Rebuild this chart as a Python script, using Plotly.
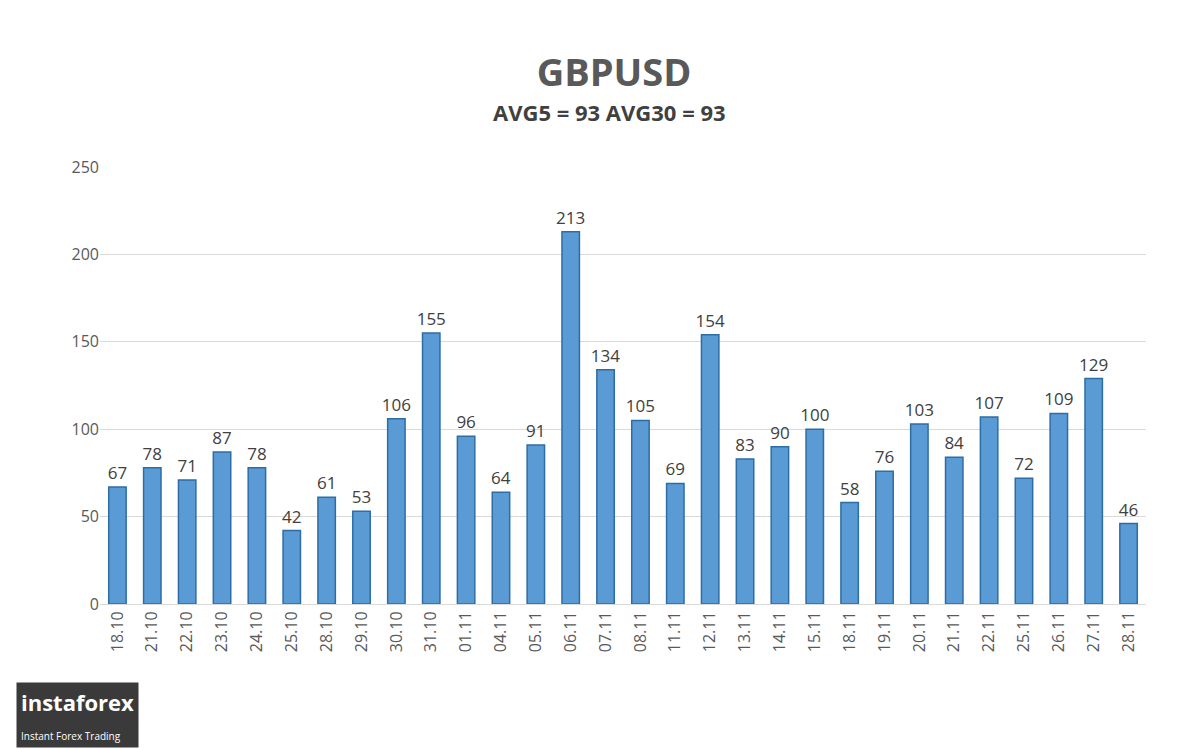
import plotly.graph_objects as go

dates = ['18.10','21.10','22.10','23.10','24.10','25.10','28.10','29.10','30.10','31.10',
         '01.11','04.11','05.11','06.11','07.11','08.11','11.11','12.11','13.11','14.11',
         '15.11','18.11','19.11','20.11','21.11','22.11','25.11','26.11','27.11','28.11']
values = [67,78,71,87,78,42,61,53,106,155,96,64,91,213,134,105,69,154,83,90,
          100,58,76,103,84,107,72,109,129,46]

fig = go.Figure()
fig.add_trace(go.Bar(x=dates, y=values, text=values, textposition='outside',
                     constraintext='none',
                     marker=dict(color='#5b9bd5', line=dict(color='#2e6da4', width=1.5)),
                     textfont=dict(size=17, color='#404040', family='Open Sans'),
                     cliponaxis=False, width=0.5))

fig.update_layout(
    width=1200, height=749, plot_bgcolor='white', paper_bgcolor='white',
    margin=dict(l=92, r=62, t=159, b=153, autoexpand=False), showlegend=False,
    font=dict(family='Open Sans', color='#595959'),
    title=dict(text='<b>GBPUSD</b>', x=0.505, y=0.913, yanchor='middle', xanchor='center',
               font=dict(size=38, color='#595959')),
    xaxis=dict(tickangle=-90, tickfont=dict(size=16, color='#595959'), showline=True,
               linecolor='#d9d9d9'),
    yaxis=dict(range=[0, 250], dtick=50, gridcolor='#d9d9d9', tickfont=dict(size=16, color='#595959'),
               zeroline=False),
    annotations=[
        dict(text='<b>AVG5 = 93 AVG30 = 93</b>', xref='paper', yref='paper', x=0.487, y=1.126,
             xanchor='center', yanchor='middle', showarrow=False,
             font=dict(size=22, color='#404040')),
        dict(text='<b>instaforex</b><br><span style="font-size:10px">Instant Forex Trading</span>',
             xref='paper', yref='paper', x=-0.08, y=-0.33, xanchor='left', yanchor='bottom',
             showarrow=False, align='left', bgcolor='#3a3a3a',
             font=dict(color='white', size=22, family='Open Sans'), borderpad=4)]
)

fig.write_html('out.html')
